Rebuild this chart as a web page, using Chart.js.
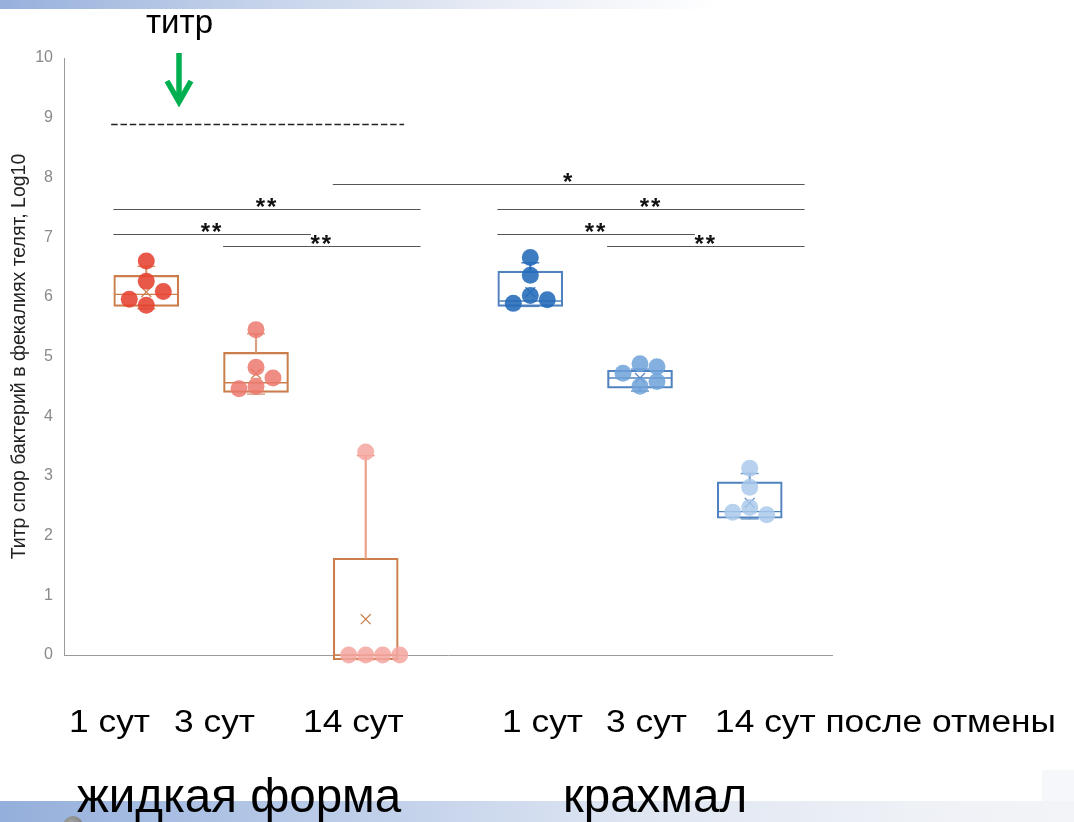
<!DOCTYPE html>
<html lang="ru">
<head>
<meta charset="utf-8">
<title>Титр спор бактерий в фекалиях телят</title>
<script src="https://cdn.jsdelivr.net/npm/chart.js@4.4.1/dist/chart.umd.min.js"></script>
<style>
  html, body { margin: 0; padding: 0; background: #fff; }
  #stage { position: relative; width: 1074px; height: 822px; overflow: hidden;
           font-family: "Liberation Sans", Arial, sans-serif; color: #000; }
  #plot { position: absolute; left: 0; top: 0; }
  .txt { position: absolute; white-space: pre; line-height: 1; transform-origin: 0 0; }
  .band-top { position: absolute; left: 0; top: 0; width: 720px; height: 9px;
              background: linear-gradient(to right, #97B0DC 0%, #C4D2EA 35%, #E9EDF5 70%, #ffffff 100%); }
  .band-bottom { position: absolute; left: 0; top: 801px; width: 1074px; height: 21px;
                 background: linear-gradient(to right, #94AFDB 0%, #BACBE8 30%, #DFE6F2 60%, #EEF1F6 85%, #F3F4F8 100%); }
  .corner { position: absolute; left: 1042px; top: 770px; width: 32px; height: 31px; background: #F6F7FA; }
  .dot { position: absolute; left: 63px; top: 816px; width: 20px; height: 20px; border-radius: 50%;
         background: radial-gradient(circle at 40% 35%, #a4a4a4, #6f6f6f); }
</style>
</head>
<body>
<div id="stage">
  <div class="band-top"></div>
  <div class="band-bottom"></div>
  <div class="corner"></div>
  <div class="dot"></div>
  <canvas id="plot" width="1074" height="822"></canvas>
  <svg style="position:absolute;left:0;top:0" width="1074" height="822">
    <g stroke="#00B050" stroke-width="5.5" fill="none" stroke-linejoin="miter">
      <line x1="179" y1="53" x2="179" y2="100"/>
      <polyline points="167,81 179,102 191,81"/>
    </g>
  </svg>
</div>
<script>
// ---- data -------------------------------------------------------------
const categories = ['1 сут', '3 сут', '14 сут', '1 сут', '3 сут', '14 сут'];
const groupNames = ['жидкая форма', 'крахмал'];
const groupOf = [0, 0, 0, 1, 1, 1];
const lastNote = 'после отмены';
const titrLabel = 'титр';
const yTitle = 'Титр спор бактерий в фекалиях телят, Log10';
const yMin = 0, yMax = 10, yStep = 1;

// individual animals, Log10 spores per gram
const liquidDay1  = [6.60, 6.26, 6.09, 5.86, 5.96];
const liquidDay3  = [5.45, 4.82, 4.64, 4.50, 4.46];
const liquidDay14 = [3.40, 0, 0, 0, 0];
const starchDay1  = [6.66, 6.36, 6.02, 5.95, 5.89];
const starchDay3  = [4.88, 4.83, 4.72, 4.50, 4.58];
const starchDay14 = [3.13, 2.81, 2.47, 2.35, 2.39];

// box-and-whisker summaries per category
const whiskerLow  = [5.80, 4.37, -0.08, 5.84, 4.42, 2.28];
const quart1      = [5.84, 4.40, -0.08, 5.84, 4.47, 2.29];
const medians     = [6.04, 4.56, 0.00, 5.93, 4.64, 2.40];
const quart3      = [6.36, 5.07, 1.62, 6.43, 4.77, 2.90];
const whiskerHigh = [6.51, 5.38, 3.34, 6.57, 4.79, 3.04];
const means       = [6.08, 4.71, 0.60, 6.08, 4.64, 2.55];

// titre of the preparation itself
const titrLevel = 8.9;

// pairwise comparisons
const sigFrom  = [0, 0, 1, 2, 3, 3, 4];
const sigTo    = [1, 2, 2, 5, 4, 5, 5];
const sigLevel = [7.05, 7.47, 6.85, 7.89, 7.06, 7.47, 6.85];
const sigMark  = ['**', '**', '**', '*', '**', '**', '**'];

// ---- appearance -------------------------------------------------------
const pointSets = [liquidDay1, liquidDay3, liquidDay14, starchDay1, starchDay3, starchDay14];
const pointColors = ['rgba(230,66,48,0.88)', 'rgba(236,120,109,0.85)', 'rgba(244,166,160,0.85)',
                     'rgba(34,106,184,0.88)', 'rgba(110,162,217,0.85)', 'rgba(170,201,235,0.85)'];
const boxColors = ['#CB7E4C', '#CB7E4C', '#CB7E4C', '#4F82BE', '#4F82BE', '#4F82BE'];
const whiskerColors = ['#D69A72', '#D9A07E', '#EEA088', '#4F82BE', '#6E9ACB', '#6E9ACB'];
const FONT = '"Liberation Sans", Arial, sans-serif';

// starch group sits half a slot further right
const slotOf = i => i + groupOf[i] * 0.5;
const at = (arr) => arr.map((v, i) => ({ x: slotOf(i), y: v }));

Chart.defaults.font.family = FONT;

const datasets = [];
pointSets.forEach((vals, i) => datasets.push({
  type: 'scatter', label: categories[i],
  data: vals.map(v => ({ x: slotOf(i), y: v })),
  pointBackgroundColor: pointColors[i], pointBorderWidth: 0,
  pointRadius: 8.5, pointHoverRadius: 8.5, clip: false, order: 0
}));
datasets.push({
  type: 'scatter', label: 'mean', data: at(means),
  pointStyle: 'crossRot', pointRadius: 7, pointBorderColor: boxColors, pointBorderWidth: 1.2,
  pointBackgroundColor: 'rgba(0,0,0,0)', clip: false, order: 1
});
datasets.push({
  type: 'scatter', label: 'median', data: at(medians),
  pointStyle: 'line', pointRadius: 32, pointBorderColor: boxColors, pointBorderWidth: 1.3,
  clip: false, order: 2
});
datasets.push({
  type: 'scatter', label: 'caps', data: at(whiskerHigh).concat(at(whiskerLow)),
  pointStyle: 'line', pointRadius: 9, pointBorderColor: whiskerColors.concat(whiskerColors),
  pointBorderWidth: 1.5, clip: false, order: 2
});
datasets.push({
  type: 'bar', label: 'upper whisker',
  data: categories.map((c, i) => ({ x: slotOf(i), y: [quart3[i], whiskerHigh[i]] })),
  barThickness: 1.5, backgroundColor: whiskerColors, borderWidth: 0, grouped: false, clip: false, order: 3
});
datasets.push({
  type: 'bar', label: 'lower whisker',
  data: categories.map((c, i) => ({ x: slotOf(i), y: [whiskerLow[i], quart1[i]] })),
  barThickness: 1.5, backgroundColor: whiskerColors, borderWidth: 0, grouped: false, clip: false, order: 3
});
datasets.push({
  type: 'bar', label: 'box',
  data: categories.map((c, i) => ({ x: slotOf(i), y: [quart1[i], quart3[i]] })),
  barThickness: 65, backgroundColor: 'rgba(255,255,255,0)', borderColor: boxColors,
  borderWidth: 1.5, borderSkipped: false, grouped: false, clip: false, order: 3
});

// significance brackets and titre level, placed through the chart scales
const bracketPlugin = {
  id: 'brackets',
  afterDatasetsDraw(chart) {
    const { ctx, scales: { x, y } } = chart;
    ctx.save();
    const ty = Math.round(y.getPixelForValue(titrLevel)) + 0.5;
    ctx.strokeStyle = '#222'; ctx.lineWidth = 1.4; ctx.setLineDash([6.5, 2.8]);
    ctx.beginPath();
    ctx.moveTo(x.getPixelForValue(slotOf(0) - 0.32), ty);
    ctx.lineTo(x.getPixelForValue(slotOf(2) + 0.35), ty);
    ctx.stroke();
    ctx.setLineDash([]);
    ctx.font = 'bold 24px ' + FONT;
    ctx.textAlign = 'center'; ctx.textBaseline = 'alphabetic';
    if ('letterSpacing' in ctx) ctx.letterSpacing = '2px';
    sigFrom.forEach((f, k) => {
      const x0 = x.getPixelForValue(slotOf(f) - 0.3);
      const x1 = x.getPixelForValue(slotOf(sigTo[k]) + 0.5);
      const yy = Math.round(y.getPixelForValue(sigLevel[k])) + 0.5;
      ctx.strokeStyle = '#555'; ctx.lineWidth = 1;
      ctx.beginPath(); ctx.moveTo(x0, yy); ctx.lineTo(x1, yy); ctx.stroke();
      ctx.fillStyle = '#111';
      ctx.fillText(sigMark[k], (x0 + x1) / 2, yy + 5);
    });
    ctx.restore();
  }
};

const chart = new Chart(document.getElementById('plot'), {
  type: 'bar',
  data: { datasets },
  options: {
    responsive: false, animation: false, events: [],
    layout: { padding: { left: 0, top: 58, right: 242, bottom: 167 } },
    plugins: { legend: { display: false }, tooltip: { enabled: false } },
    scales: {
      x: {
        type: 'linear', min: -0.75, max: 6.25, offset: false,
        ticks: { display: false }, grid: { display: false, drawTicks: false, offset: false },
        border: { display: true, color: '#9a9a9a', width: 1 },
        afterFit: s => { s.height = 0; }
      },
      y: {
        min: yMin, max: yMax,
        ticks: { stepSize: yStep, color: '#8a8a8a', font: { size: 16 }, padding: 11 },
        grid: { display: false, drawTicks: false },
        border: { display: true, color: '#9a9a9a', width: 1 },
        title: { display: true, text: yTitle, color: '#222', font: { size: 19.5 }, padding: { top: 8, bottom: 0 } },
        afterFit: s => { s.width = 64; }
      }
    }
  },
  plugins: [bracketPlugin]
});

// lay animals out in side columns when they would overlap within a box
function swarm(ch) {
  const xs = ch.scales.x, ys = ch.scales.y;
  const pxPerUnit = xs.getPixelForValue(1) - xs.getPixelForValue(0);
  const step = 17, minGap = 14;
  const order = [0, 1, -1, 2, -2, 3, -3];
  pointSets.forEach((vals, i) => {
    const placed = [];
    vals.forEach((v, j) => {
      const py = ys.getPixelForValue(v);
      const col = order.find(c => placed.every(p => p.col !== c || Math.abs(p.py - py) >= minGap));
      placed.push({ col, py });
      ch.data.datasets[i].data[j].x = slotOf(i) + (col * step) / pxPerUnit;
    });
  });
  ch.update('none');
}
swarm(chart);

// ---- slide captions ---------------------------------------------------
const stage = document.getElementById('stage');
function caption(text, left, top, size, stretch) {
  const el = document.createElement('div');
  el.className = 'txt';
  el.textContent = text;
  el.style.left = left + 'px';
  el.style.top = top + 'px';
  el.style.fontSize = size + 'px';
  if (stretch) el.style.transform = 'scaleX(' + stretch + ')';
  stage.appendChild(el);
}
caption(titrLabel, 146, 5, 33);
const catLeft = [69, 174, 303, 502, 606, 715];
categories.forEach((c, i) => {
  const text = i === categories.length - 1 ? c + ' ' + lastNote : c;
  caption(text, catLeft[i], 706, 31, 1.14);
});
caption(groupNames[0], 77, 772, 47.5);
caption(groupNames[1], 563, 772, 47.5);
</script>
</body>
</html>
